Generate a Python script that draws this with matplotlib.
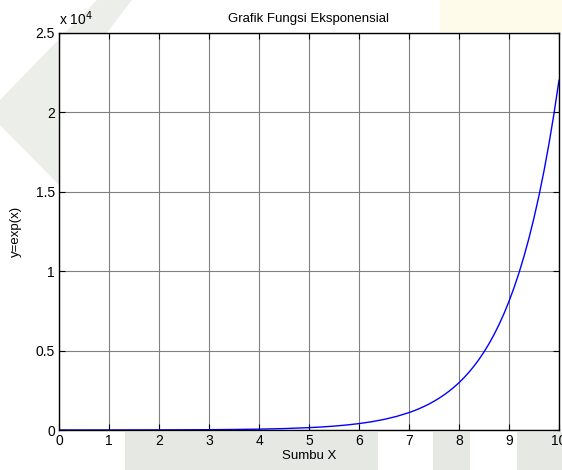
import matplotlib
matplotlib.use("Agg")
from matplotlib import pyplot as plt
from matplotlib.patches import Polygon, Rectangle
from matplotlib.ticker import FuncFormatter

# values (coarser where it is flat, finer where it bends up)
x_vals = [0, 0.5, 1, 1.5, 2, 2.5, 3, 3.5, 4, 4.5, 5, 5.25, 5.5, 5.75, 6, 6.25,
          6.5, 6.75, 7.0, 7.1, 7.2, 7.3, 7.4, 7.5, 7.6, 7.7, 7.8, 7.9, 8.0,
          8.1, 8.2, 8.3, 8.4, 8.5, 8.6, 8.7, 8.8, 8.9, 9.0, 9.1, 9.2, 9.3,
          9.4, 9.5, 9.6, 9.7, 9.8, 9.9, 10.0]
y_vals = [1, 1.65, 2.72, 4.48, 7.39, 12.2, 20.1, 33.1, 54.6, 90.0, 148.4, 190.6,
          244.7, 314.2, 403.4, 518.0, 665.1, 854.1, 1096.6, 1212.0, 1339.4,
          1480.3, 1636.0, 1808.0, 1998.2, 2208.3, 2440.6, 2697.3, 2981.0,
          3294.5, 3641.0, 4023.9, 4447.1, 4914.8, 5431.7, 6002.9, 6634.2,
          7332.0, 8103.1, 8955.3, 9897.1, 10938.0, 12088.4, 13359.7, 14764.8,
          16317.6, 18033.7, 19930.4, 22026.5]
x_ticks = [0, 1, 2, 3, 4, 5, 6, 7, 8, 9, 10]
y_ticks = [0, 5000, 10000, 15000, 20000, 25000]

plt.rcParams["font.family"] = ["Liberation Sans", "DejaVu Sans"]

W, H = 562, 470
fig = plt.figure(figsize=(W / 100, H / 100), dpi=100)
fig.patch.set_facecolor("white")


# faint watermark shapes behind the axes (figure pixel coords, y down)
def px(points):
    return [(x / W, 1 - y / H) for x, y in points]


wm_gray = "#eceeea"
fig.patches.append(Polygon(px([(97, 0), (132, 0), (59, 95), (59, 185), (0, 125), (0, 100)]),
                           closed=True, transform=fig.transFigure, facecolor=wm_gray,
                           edgecolor="none", zorder=-5))
for x0, x1 in [(125, 378), (433, 470), (517, 562)]:
    fig.patches.append(Rectangle((x0 / W, 0), (x1 - x0) / W, 38 / H,
                                 transform=fig.transFigure, facecolor="#e6e8e3",
                                 edgecolor="none", zorder=-5))
fig.patches.append(Rectangle((440 / W, 1 - 32 / H), 122 / W, 32 / H,
                             transform=fig.transFigure, facecolor="#fefbea",
                             edgecolor="none", zorder=-5))

ax = fig.add_axes([59 / W, 1 - 430 / H, 500 / W, 397 / H])
ax.set_facecolor("white")
ax.plot(x_vals, y_vals, color="#0000ff", linewidth=1.0)

ax.set_xlim(0, 10)
ax.set_ylim(0, 25000)
ax.set_xticks(x_ticks)
ax.set_yticks(y_ticks)
ax.yaxis.set_major_formatter(FuncFormatter(lambda v, _: f"{v / 1e4:g}"))
ax.tick_params(direction="in", length=4, width=0.8, top=True, right=True,
               labelsize=10, colors="black", pad=3)
ax.grid(True, color="#808080", linewidth=0.8, linestyle="-")
ax.set_axisbelow(True)
for sp in ax.spines.values():
    sp.set_linewidth(1.0)
    sp.set_color("black")

ax.set_title("Grafik Fungsi Eksponensial", fontsize=9.5, pad=8)
ax.set_xlabel("Sumbu X", fontsize=9.5, labelpad=1)
ax.set_ylabel("y=exp(x)", fontsize=9.5, labelpad=10)
ax.text(0, 1.012, "x 10$^{4}$", transform=ax.transAxes, fontsize=10,
        ha="left", va="bottom")

fig.savefig("out.png", dpi=100)
